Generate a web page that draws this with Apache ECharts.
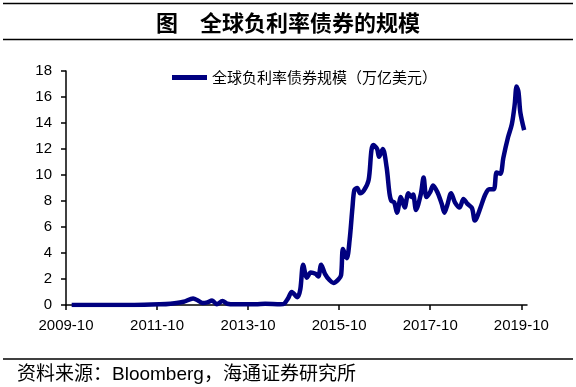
<!DOCTYPE html>
<html>
<head>
<meta charset="utf-8">
<script src="https://cdn.jsdelivr.net/npm/echarts@6/dist/echarts.min.js"></script>
<style>
html,body{margin:0;padding:0;background:#fff;}
#chart{width:576px;height:387px;}
</style>
</head>
<body>
<div id="chart"></div>
<script>
// Months elapsed since 2009-10 (fractional) and bond size (trillion USD)
const monthOffsets = [
  1.5, 6, 12, 18, 24.8, 27.4, 30.9, 33.5, 34.8, 35.9, 37.2, 38.5, 39.8, 41.2, 42.5,
  44.6, 49.9, 52.5, 56.5, 57.5, 58.6, 59.6, 61.0, 61.7, 62.5, 63.6, 64.6, 65.7, 66.5,
  67.3, 68.3, 69.4, 70.4, 71.8, 72.6, 73.1, 73.9, 74.7, 75.5, 76.0, 76.8, 77.6, 78.6,
  79.7, 80.5, 81.1, 82.1, 82.6, 83.5, 84.4, 85.2, 85.7, 86.5, 87.3, 88.3, 89.2, 90.2,
  91.0, 91.6, 92.3, 93.4, 94.2, 95.0, 96.0, 96.8, 97.9, 98.9, 99.7, 100.5, 101.6,
  102.6, 103.7, 104.7, 105.8, 106.9, 107.7, 108.2, 109.2, 110.6, 111.6, 112.7, 113.5,
  114.5, 115.3, 116.4, 117.4, 118.2, 118.7, 119.3, 119.8, 120.8
];
const bondValues = [
  0.0, 0.0, 0.0, 0.0, 0.05, 0.1, 0.25, 0.5, 0.35, 0.15, 0.2, 0.35, 0.05, 0.3, 0.1,
  0.05, 0.05, 0.1, 0.05, 0.1, 0.5, 1.0, 0.6, 1.2, 3.1, 2.1, 2.5, 2.4, 2.2,
  3.1, 2.4, 1.9, 1.7, 1.95, 2.3, 4.3, 3.6, 5.0, 7.5, 8.85, 9.0, 8.6, 8.8,
  9.6, 11.9, 12.3, 12.0, 11.4, 12.0, 10.6, 8.6, 8.0, 7.9, 7.1, 8.3, 7.5, 8.6,
  8.3, 8.5, 7.3, 8.5, 9.8, 8.3, 8.7, 9.2, 8.6, 7.8, 7.1, 7.7, 8.6,
  7.9, 7.5, 8.15, 7.8, 7.45, 6.5, 6.7, 7.5, 8.5, 8.9, 8.9, 10.2,
  10.1, 11.3, 12.9, 13.9, 15.4, 16.8, 16.4, 14.8, 13.45
];
const seriesName = '全球负利率债券规模（万亿美元）';
const chartTitle = '图　全球负利率债券的规模';
const sourceNote = '资料来源：Bloomberg，海通证券研究所';
const startYear = 2009, startMonth = 10;
const stepsPerMonth = 4;          // weekly resolution of the category axis
const totalMonths = 121.5;
const labelEveryMonths = 24;

const N = Math.round(totalMonths * stepsPerMonth) + 1;
const categories = [];
for (let i = 0; i < N; i++) {
  const m = Math.floor(i / stepsPerMonth);
  const tot = (startMonth - 1) + m;
  const y = startYear + Math.floor(tot / 12);
  const mo = (tot % 12) + 1;
  categories.push(y + '-' + (mo < 10 ? '0' + mo : mo));
}
const seriesData = new Array(N).fill(null);
monthOffsets.forEach((m, i) => { seriesData[Math.round(m * stepsPerMonth)] = bondValues[i]; });
const tickEvery = labelEveryMonths * stepsPerMonth;

const chart = echarts.init(document.getElementById('chart'), null, {renderer: 'canvas'});
chart.setOption({
  animation: false,
  backgroundColor: '#fff',
  title: [{
    text: chartTitle, left: 'center', top: 12, padding: 0,
    textStyle: {fontFamily: 'Noto Sans CJK SC', fontSize: 22, fontWeight: 'bold', color: '#000'}
  }, {
    text: sourceNote, left: 17, top: 365, padding: 0,
    textStyle: {fontFamily: 'Liberation Sans, Noto Sans CJK SC', fontSize: 19, fontWeight: 'normal', color: '#000'}
  }],
  graphic: [
    {type: 'line', shape: {x1: 3, y1: 3.5, x2: 573, y2: 3.5}, style: {stroke: '#000', lineWidth: 1.5}},
    {type: 'line', shape: {x1: 3, y1: 39.5, x2: 573, y2: 39.5}, style: {stroke: '#000', lineWidth: 1.5}},
    {type: 'line', shape: {x1: 3, y1: 359, x2: 573, y2: 359}, style: {stroke: '#000', lineWidth: 1.5}}
  ],
  legend: {
    left: 172, top: 70, padding: 0,
    icon: 'rect', itemWidth: 35, itemHeight: 5, itemGap: 10,
    textStyle: {fontFamily: 'Noto Sans CJK SC', fontSize: 15, color: '#000'},
    data: [seriesName]
  },
  grid: {left: 66, right: 49, top: 71, bottom: 82, containLabel: false},
  xAxis: {
    type: 'category', data: categories, boundaryGap: false,
    axisLine: {lineStyle: {color: '#000', width: 1.5}},
    axisTick: {length: 5, lineStyle: {color: '#000', width: 1.5}, interval: (i) => i % tickEvery === 0},
    axisLabel: {interval: (i) => i % tickEvery === 0, margin: 13, color: '#000',
      fontFamily: 'Liberation Sans, Arial', fontSize: 15}
  },
  yAxis: {
    type: 'value', min: 0, max: 18, interval: 2,
    axisLine: {show: true, lineStyle: {color: '#000', width: 1.5}},
    axisTick: {show: true, length: 5, lineStyle: {color: '#000', width: 1.5}},
    splitLine: {show: false},
    axisLabel: {margin: 14, color: '#000', fontFamily: 'Liberation Sans, Arial', fontSize: 15}
  },
  series: [{
    name: seriesName, type: 'line', data: seriesData, connectNulls: true,
    showSymbol: false, symbol: 'none', smooth: 0.3,
    lineStyle: {color: '#000080', width: 4.5}, itemStyle: {color: '#000080'}
  }]
});
</script>
</body>
</html>
